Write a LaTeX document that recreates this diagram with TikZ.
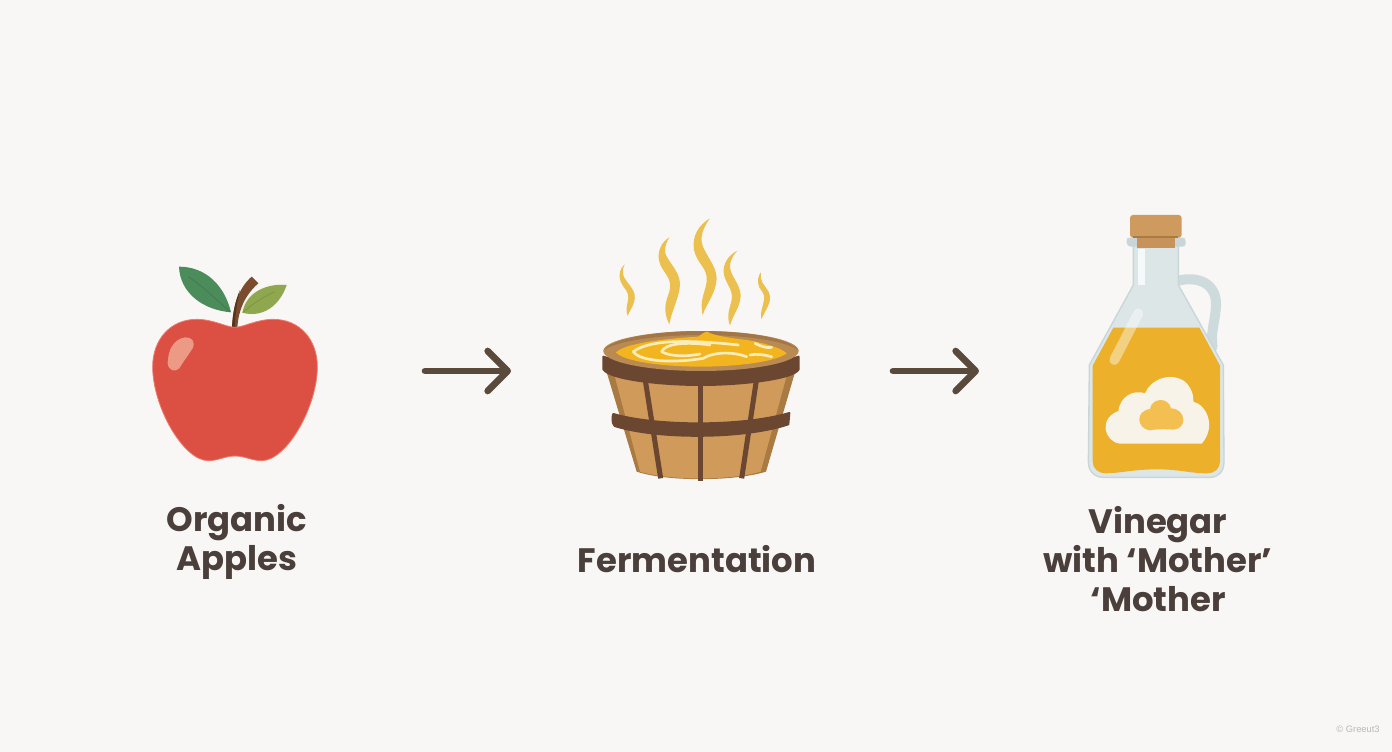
\documentclass[tikz,border=0pt]{standalone}
\usepackage{fontspec}
\setmainfont{Poppins}
\newfontfamily\wmfont{Liberation Sans}
\usetikzlibrary{arrows.meta}
\definecolor{paper}{HTML}{F8F7F5}
\definecolor{ink}{HTML}{4A3F3A}
\definecolor{arrowc}{HTML}{5A4A3C}
\definecolor{applered}{HTML}{DC4F43}
\definecolor{appleedge}{HTML}{EE7A6C}
\definecolor{shine}{HTML}{EC9A85}
\definecolor{leafdark}{HTML}{4C8B5A}
\definecolor{leafvein}{HTML}{3F7A4E}
\definecolor{leaflight}{HTML}{8FA84F}
\definecolor{veinlight}{HTML}{78933F}
\definecolor{stemc}{HTML}{7A4B2D}
\definecolor{steam}{HTML}{EBC04E}
\definecolor{rimc}{HTML}{B98A52}
\definecolor{soup}{HTML}{F3B51F}
\definecolor{froth}{HTML}{FCEDB8}
\definecolor{wood}{HTML}{D09A5A}
\definecolor{woodedge}{HTML}{A97A42}
\definecolor{band}{HTML}{6B4630}
\definecolor{glass}{HTML}{DCE6E6}
\definecolor{glassedge}{HTML}{C8D6D9}
\definecolor{corkc}{HTML}{CF9A5E}
\definecolor{vinegar}{HTML}{ECB02A}
\definecolor{cream}{HTML}{F7F3E9}
\definecolor{moth}{HTML}{F2BF50}
\tikzset{
  x=0.75pt,y=-0.75pt,
  zoomed/.style={x=0.25pt,y=-0.25pt},
  caption/.style={font=\fontsize{25.4}{29.25}\selectfont\bfseries,text=ink,align=center,inner sep=0pt},
  flowarrow/.style={draw=arrowc,line width=5pt,line cap=round,line join=round,-{Straight Barb[length=15pt,width=30pt,round]}},
  steamwisp/.style={fill=steam,draw=none},
  slat/.style={draw=band,line width=3.8pt},
  hoop/.style={fill=band,draw=band,line width=1.5pt,line join=round},
  frothline/.style={draw=froth,line width=2pt,line cap=round},
}
\begin{document}
\begin{tikzpicture}
\useasboundingbox (0,0) rectangle (1392,752);
\fill[paper] (0,0) rectangle (1392,752);

% ---------- apple
\begin{scope}[shift={(130,250)},zoomed]
\fill[leafdark] (147,50) .. controls (230,50) and (285,110) .. (303,187) .. controls (220,180) and (150,130) .. (147,50) -- cycle;
\draw[leafvein,line width=.5pt] (175,80) .. controls (220,110) and (260,150) .. (300,185);
\fill[cream] (468,102) .. controls (420,96) and (348,118) .. (332,190) .. controls (400,208) and (452,168) .. (472,104) -- cycle;
\fill[leaflight] (470,105) .. controls (420,100) and (350,120) .. (337,188) .. controls (400,205) and (450,165) .. (470,105) -- cycle;
\draw[veinlight,line width=.5pt] (340,186) .. controls (370,160) and (400,140) .. (435,125);
\fill[stemc] (306,234) .. controls (308,170) and (325,115) .. (365,80) -- (385,100) .. controls (345,135) and (325,180) .. (322,234) -- cycle;
\fill[stemc!70!black] (306,234) .. controls (308,190) and (316,150) .. (330,120) .. controls (320,160) and (315,200) .. (314,234) -- cycle;
\filldraw[fill=applered,draw=appleedge,line width=.6pt]
  (315,232) .. controls (290,232) and (250,208) .. (200,208)
  .. controls (120,208) and (68,270) .. (68,350)
  .. controls (68,470) and (160,632) .. (235,632)
  .. controls (265,632) and (285,618) .. (315,618)
  .. controls (345,618) and (365,632) .. (395,632)
  .. controls (470,632) and (562,470) .. (562,350)
  .. controls (562,270) and (510,208) .. (430,208)
  .. controls (380,208) and (340,232) .. (315,232) -- cycle;
\fill[shine] (165,262) .. controls (185,260) and (197,275) .. (188,295) .. controls (175,315) and (160,335) .. (148,355) .. controls (135,368) and (115,362) .. (113,340) .. controls (114,300) and (130,268) .. (165,262) -- cycle;
\end{scope}

% ---------- barrel
\begin{scope}[shift={(590,210)},zoomed]
\fill[steamwisp] (360,25) .. controls (325,45) and (305,80) .. (312,120) .. controls (320,160) and (355,175) .. (350,215) .. controls (345,250) and (328,270) .. (338,315) .. controls (350,280) and (378,250) .. (380,205) .. controls (380,165) and (340,130) .. (335,95) .. controls (332,70) and (345,45) .. (360,25) -- cycle;
\fill[steamwisp] (238,82) .. controls (215,95) and (200,125) .. (208,155) .. controls (215,185) and (245,200) .. (240,235) .. controls (235,265) and (212,290) .. (238,343) .. controls (245,300) and (270,260) .. (270,220) .. controls (268,180) and (228,150) .. (225,125) .. controls (224,110) and (230,95) .. (238,82) -- cycle;
\fill[steamwisp] (442,122) .. controls (415,135) and (395,165) .. (402,195) .. controls (410,225) and (430,240) .. (425,270) .. controls (420,295) and (408,315) .. (420,347) .. controls (428,315) and (452,290) .. (452,255) .. controls (450,220) and (418,195) .. (420,165) .. controls (422,150) and (430,135) .. (442,122) -- cycle;
\fill[steamwisp] (104,163) .. controls (90,175) and (84,195) .. (92,215) .. controls (100,235) and (118,245) .. (115,265) .. controls (112,285) and (105,300) .. (113,318) .. controls (122,295) and (137,280) .. (134,255) .. controls (130,230) and (100,210) .. (99,190) .. controls (98,180) and (100,170) .. (104,163) -- cycle;
\fill[steamwisp] (513,187) .. controls (505,195) and (500,215) .. (508,232) .. controls (515,245) and (525,250) .. (522,270) .. controls (520,290) and (508,305) .. (515,328) .. controls (522,305) and (542,285) .. (540,260) .. controls (537,235) and (515,225) .. (513,205) .. controls (512,200) and (512,192) .. (513,187) -- cycle;
% body
\fill[woodedge] (48,480) -- (140,785) .. controls (230,815) and (430,815) .. (528,785) -- (617,480) -- cycle;
\fill[wood] (72,490) -- (150,785) .. controls (240,812) and (420,812) .. (512,785) -- (592,490) -- cycle;
\draw[slat] (165,505) -- (212,805);
\draw[slat] (331,515) -- (331,812);
\draw[slat] (500,505) -- (455,805);
% lower hoop
\filldraw[hoop] (70,612) .. controls (200,650) and (460,650) .. (598,609) -- (595,643) .. controls (460,688) and (200,688) .. (74,648) .. controls (66,640) and (66,622) .. (70,612) -- cycle;
% upper hoop
\filldraw[hoop] (40,440) .. controls (120,470) and (540,470) .. (626,440) -- (626,478) .. controls (610,508) and (450,525) .. (333,525) .. controls (210,525) and (60,508) .. (40,478) -- cycle;
% rim and brew
\fill[rimc] (333,423) ellipse [x radius=293,y radius=60];
\fill[rimc!70!band] (40,423) .. controls (60,385) and (200,363) .. (333,363) .. controls (470,363) and (605,385) .. (626,423) .. controls (600,395) and (470,375) .. (333,375) .. controls (200,375) and (65,395) .. (40,423) -- cycle;
\fill[soup] (78,428) .. controls (100,400) and (230,385) .. (325,380) .. controls (335,372) and (345,365) .. (352,365) .. controls (365,375) and (410,383) .. (470,390) .. controls (530,400) and (575,415) .. (590,430) .. controls (560,455) and (440,470) .. (333,470) .. controls (220,470) and (105,455) .. (78,428) -- cycle;
\draw[frothline] (130,425) .. controls (170,395) and (260,385) .. (445,405);
\draw[frothline] (130,425) .. controls (150,455) and (250,460) .. (340,445) .. controls (370,425) and (430,425) .. (470,440);
\draw[frothline] (215,425) .. controls (225,400) and (290,395) .. (360,405);
\draw[frothline] (215,425) .. controls (240,440) and (290,440) .. (330,432);
\draw[frothline] (495,400) .. controls (515,410) and (530,415) .. (545,412);
\draw[frothline] (480,435) .. controls (500,430) and (525,435) .. (545,440);
\end{scope}

% ---------- bottle
\begin{scope}[shift={(1070,205)},zoomed]
\draw[glassedge!70!glass,line width=7.5pt,line cap=round] (320,228) .. controls (390,210) and (440,240) .. (438,300) .. controls (436,350) and (420,385) .. (428,425);
\filldraw[fill=glass,draw=glassedge,line width=1pt] (190,120) -- (190,240) -- (58,480) -- (55,770) .. controls (55,800) and (75,817) .. (100,817) -- (420,817) .. controls (445,817) and (462,800) .. (462,770) -- (460,480) -- (325,240) -- (325,120) -- cycle;
\fill[vinegar] (130,368) -- (388,368) -- (450,482) -- (450,770) .. controls (450,790) and (435,805) .. (410,805) .. controls (360,805) and (330,793) .. (260,793) .. controls (190,793) and (150,805) .. (105,805) .. controls (85,805) and (68,790) .. (68,770) -- (68,482) -- cycle;
\fill[white!75!glass] (203,132) rectangle (225,240);
\draw[white,opacity=.42,line width=7.5pt,line cap=round] (205,325) -- (133,465);
\fill[glassedge] (170,108) .. controls (170,98) and (175,98) .. (182,98) -- (335,98) .. controls (345,98) and (347,102) .. (347,110) .. controls (347,120) and (345,125) .. (335,125) -- (182,125) .. controls (175,125) and (170,120) .. (170,108) -- cycle;
\fill[corkc!92!band] (200,95) rectangle (315,128);
\fill[corkc,rounded corners=2.2pt] (180,30) rectangle (335,98);
\fill[woodedge] (190,94) rectangle (325,99);
\fill[cream] (150,716) .. controls (102,710) and (85,640) .. (145,618) .. controls (150,575) and (190,552) .. (225,565) .. controls (240,525) and (300,498) .. (345,530) .. controls (362,545) and (372,570) .. (370,590) .. controls (410,600) and (440,665) .. (395,716) -- cycle;
\fill[moth] (238,676) .. controls (200,670) and (195,618) .. (240,612) .. controls (245,578) and (295,575) .. (303,610) .. controls (350,612) and (352,672) .. (310,674) .. controls (285,672) and (262,672) .. (238,676) -- cycle;
\end{scope}

% ---------- flow
\coordinate (a1s) at (425,371);
\coordinate (a1e) at (511,371);
\coordinate (a2s) at (893,371);
\coordinate (a2e) at (979,371);
\draw[flowarrow] (a1s) -- (a1e);
\draw[flowarrow] (a2s) -- (a2e);

\node[caption,anchor=center] (apples) at (237,542) {Organic\\Apples};
\node[caption,anchor=center] (ferment) at (697,559) {Fermentation};
\node[caption,anchor=center] (vin) at (1158,559) {Vinegar\\with ‘Mother’\\‘Mother};
\node[font=\wmfont\fontsize{7}{8}\selectfont,text=black!28,inner sep=0pt] (mark) at (1358,729) {© Greeut3};
\end{tikzpicture}
\end{document}
